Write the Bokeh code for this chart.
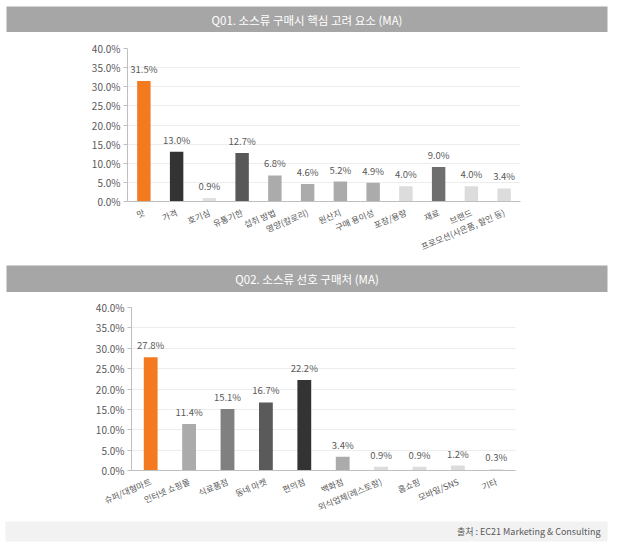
from bokeh.plotting import figure
from bokeh.layouts import column
from bokeh.models import (Range1d, FactorRange, FixedTicker, PrintfTickFormatter,
                          ColumnDataSource, LabelSet)
from bokeh.embed import file_html
from bokeh.resources import INLINE
from bokeh.core.properties import value

FONT = "Noto Sans CJK KR"

# ---------------- data ----------------
title1 = "Q01. 소스류 구매시 핵심 고려 요소 (MA)"
cats1 = ["맛", "가격", "호기심", "유통기한", "섭취 방법", "영양(칼로리)", "원산지",
         "구매 용이성", "포장/용량", "재료", "브랜드", "프로모션(사은품, 할인 등)"]
vals1 = [31.5, 13.0, 0.9, 12.7, 6.8, 4.6, 5.2, 4.9, 4.0, 9.0, 4.0, 3.4]
colors1 = ["#F47A20", "#333333", "#E0E0E0", "#585858", "#ABABAB", "#ABABAB", "#ABABAB",
           "#ABABAB", "#DCDCDC", "#6E6E6E", "#DCDCDC", "#DCDCDC"]

title2 = "Q02. 소스류 선호 구매처 (MA)"
cats2 = ["슈퍼/대형마트", "인터넷 쇼핑몰", "식료품점", "동네 마켓", "편의점", "백화점",
         "외식업체(레스토랑)", "홈쇼핑", "모바일/SNS", "기타"]
vals2 = [27.8, 11.4, 15.1, 16.7, 22.2, 3.4, 0.9, 0.9, 1.2, 0.3]
colors2 = ["#F47A20", "#ABABAB", "#808080", "#5A5A5A", "#333333", "#ABABAB",
           "#DCDCDC", "#DCDCDC", "#DCDCDC", "#DCDCDC"]

y_ticks = [0, 5, 10, 15, 20, 25, 30, 35, 40]
source_note = "출처 : EC21 Marketing & Consulting"

TXT = "#595959"
AX = "#BFBFBF"


def header(text, height, top):
    p = figure(width=621, height=height, x_range=Range1d(0, 1), y_range=Range1d(0, 1),
               toolbar_location=None, output_backend="svg", frame_align=False,
               min_border_left=6, min_border_right=14, min_border_top=top,
               min_border_bottom=0, x_axis_location=None, y_axis_location=None)
    p.background_fill_color = "#A6A6A6"
    p.border_fill_color = "white"
    p.outline_line_color = None
    p.grid.visible = False
    p.text(x=[0.5], y=[0.5], text=[text], text_align="center", text_baseline="middle",
           text_color="white", text_font=value(FONT), text_font_size="11.5px")
    return p


def chart(cats, vals, colors, height, left, right, top, bottom, bw):
    src = ColumnDataSource(dict(cat=cats, val=vals, color=colors,
                                label=["%.1f%%" % v for v in vals]))
    p = figure(width=621, height=height, x_range=FactorRange(*cats),
               y_range=Range1d(0, 40), toolbar_location=None, output_backend="svg",
               frame_align=False,
               min_border_left=left, min_border_right=right,
               min_border_top=top, min_border_bottom=bottom)
    p.outline_line_color = None
    p.background_fill_color = "white"
    p.border_fill_color = "white"
    p.vbar(x="cat", top="val", width=bw, fill_color="color", line_color=None, source=src)
    p.add_layout(LabelSet(x="cat", y="val", text="label", source=src, text_align="center",
                          text_baseline="bottom", y_offset=5, text_color=TXT,
                          text_font=value(FONT), text_font_size="9.5px"))
    ticker = FixedTicker(ticks=y_ticks)
    p.yaxis.ticker = ticker
    p.yaxis.formatter = PrintfTickFormatter(format="%.1f%%")
    p.yaxis.axis_line_color = AX
    p.yaxis.major_tick_line_color = AX
    p.yaxis.major_tick_out = 4
    p.yaxis.major_tick_in = 0
    p.yaxis.minor_tick_line_color = None
    p.yaxis.major_label_standoff = 3
    p.yaxis.major_label_text_font = FONT
    p.yaxis.major_label_text_font_size = "10px"
    p.yaxis.major_label_text_color = TXT
    p.xaxis.axis_line_color = AX
    p.xaxis.major_tick_line_color = None
    p.xaxis.minor_tick_line_color = None
    p.xaxis.major_label_orientation = 0.4
    p.xaxis.major_label_standoff = 4
    p.xaxis.major_label_text_font = FONT
    p.xaxis.major_label_text_font_size = "8.5px"
    p.xaxis.major_label_text_color = TXT
    p.xgrid.visible = False
    p.ygrid.ticker = ticker
    p.ygrid.grid_line_color = "#EDEDED"
    return p


h1 = header(title1, 32, 6)
c1 = chart(cats1, vals1, colors1, 233, 127, 101, 16, 64, 0.41)
h2 = header(title2, 27, 0)
c2 = chart(cats2, vals2, colors2, 229, 131, 106, 15, 51, 0.36)

f = figure(width=621, height=27, x_range=Range1d(0, 1), y_range=Range1d(0, 1),
           toolbar_location=None, output_backend="svg", frame_align=False,
           min_border_left=5, min_border_right=14, min_border_top=0,
           min_border_bottom=7, x_axis_location=None, y_axis_location=None)
f.background_fill_color = "#F2F2F2"
f.border_fill_color = "white"
f.outline_line_color = None
f.grid.visible = False
f.text(x=[1], y=[0.5], text=[source_note], text_align="right", text_baseline="middle",
       x_offset=-7, text_color=TXT, text_font=value(FONT), text_font_size="9px")

layout = column(h1, c1, h2, c2, f, spacing=0)
open("out.html", "w").write(file_html(layout, INLINE))
